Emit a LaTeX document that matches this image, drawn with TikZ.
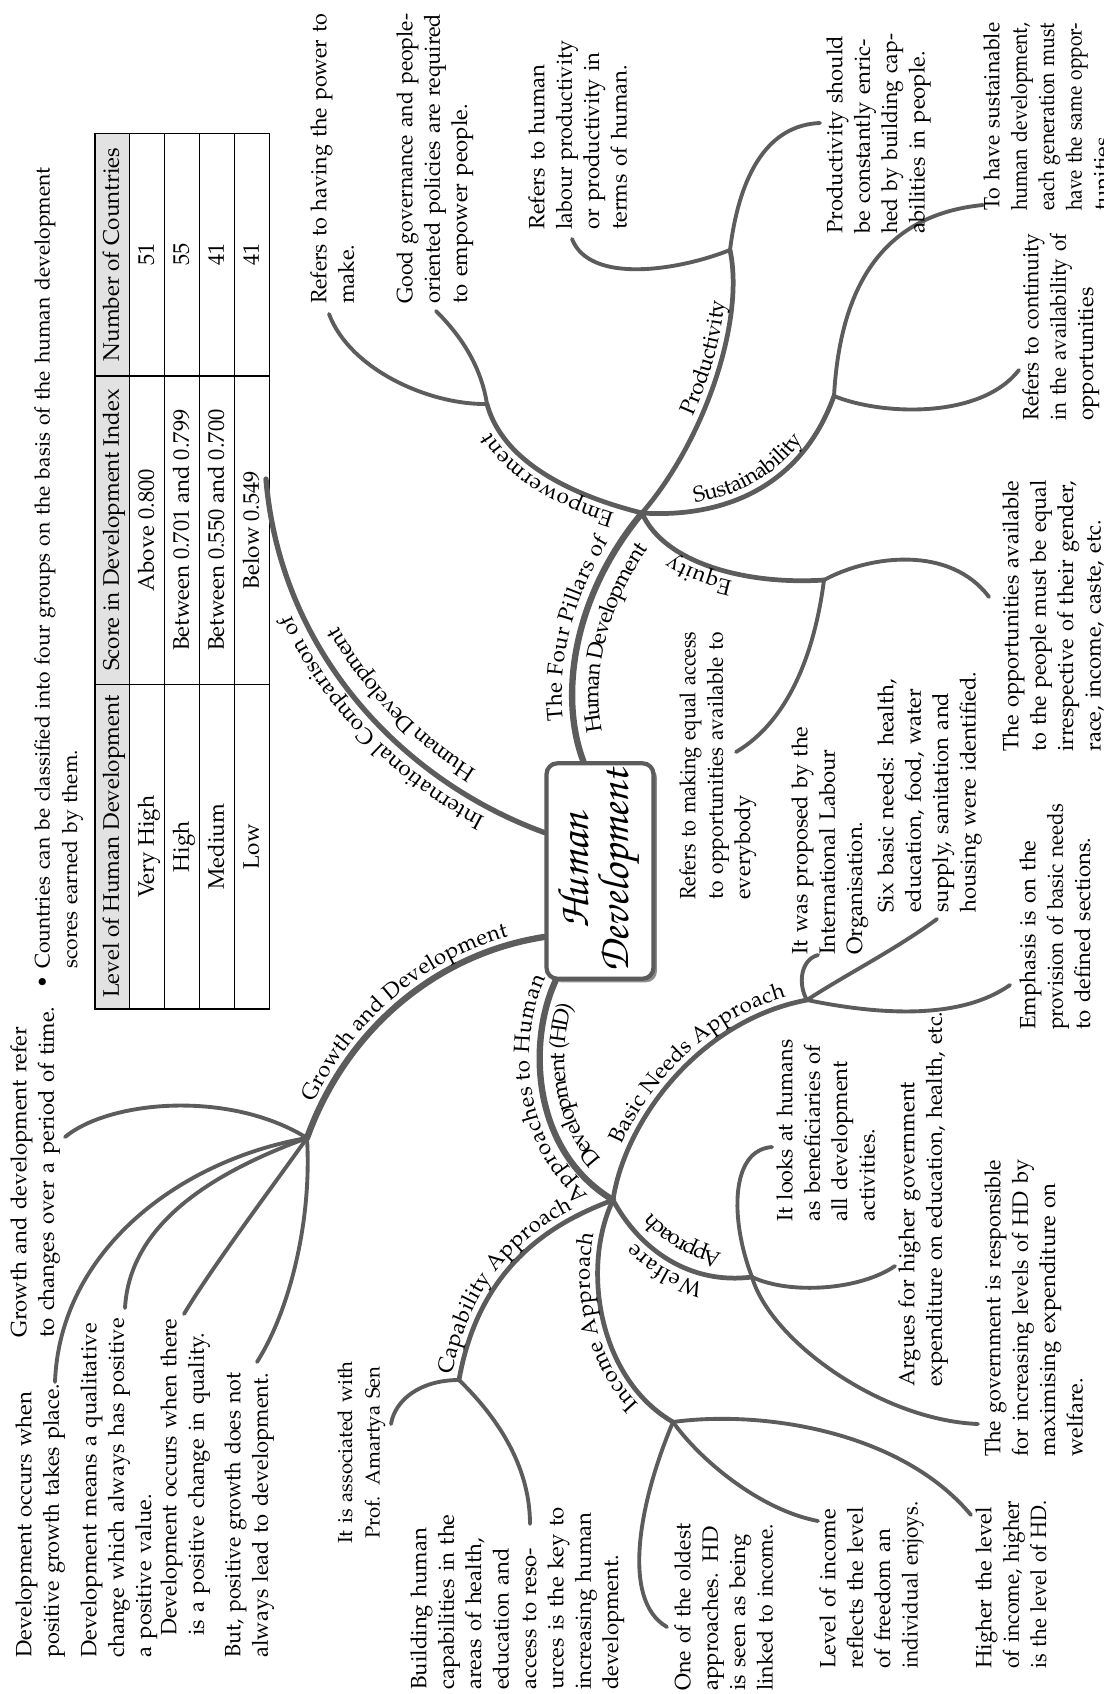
\documentclass[tikz,border=0pt]{standalone}
\usepackage[T1]{fontenc}
\usepackage{mathpazo}
\usepackage{graphicx}
\usepackage{array}
\usepackage{colortbl}
\usepackage{pdfrender}
\usetikzlibrary{calc,shadows,decorations.text}

\definecolor{branch}{HTML}{5C5C5C}
\definecolor{headgray}{HTML}{E2E2E2}

\newcolumntype{C}[1]{>{\centering\arraybackslash}p{#1}}
\newcommand{\bodyfont}{\fontsize{12.6}{15.6}\selectfont}
\newcommand{\titlefont}{\fontfamily{pzc}\fontsize{25}{22.7}\selectfont\pdfrender{TextRenderingMode=FillStroke,LineWidth=0.8pt}}
% one line of a block: squeezed when too long, else stretched (s) or left (l)
\newcommand{\fitline}[2]{\sbox0{#2}\ifdim\wd0>\linewidth\pgfmathsetmacro\jfac{\linewidth/\wd0}\scalebox{\jfac}[1]{#2}\else\makebox[\linewidth][#1]{#2}\fi}
\newcommand{\jline}{\fitline{s}}
\newcommand{\lline}{\fitline{l}}

\tikzset{
  trunk/.style={draw=branch, line width=3.6pt, line cap=round},
  bough/.style={draw=branch, line width=2.7pt, line cap=round},
  twig/.style={draw=branch, line width=2.2pt, line cap=round},
  leaf/.style={rotate=90, anchor=north west, inner sep=0pt, font=\bodyfont, align=left},
  say/.style n args={3}{postaction={decorate, decoration={text along path, raise=#1,
    text align={#2}, text={|\bodyfont|#3}}}},
  hub/.style={rotate=90, draw=branch, line width=2.4pt, rounded corners=0.22cm,
    fill=white, minimum width=3.94cm, minimum height=2.14cm, align=center, font=\titlefont,
    drop shadow={shadow xshift=0.07cm, shadow yshift=-0.07cm, fill=branch!70, opacity=1}}
}

\begin{document}
\begin{tikzpicture}[x=0.02cm, y=-0.02cm]
    \useasboundingbox (0,0) rectangle (1103,1694);

    % junctions
    \coordinate (pil) at (642,513);
    \coordinate (prod) at (730,250);
    \coordinate (sust) at (834,396);
    \coordinate (equi) at (824,580);
    \coordinate (empw) at (487,404);
    \coordinate (appr) at (613,1200);
    \coordinate (basic) at (807,1000);
    \coordinate (welf) at (752,1277);
    \coordinate (inc) at (673,1422);
    \coordinate (capa) at (459,1380);
    \coordinate (grow) at (307,1138);
    \coordinate (tabtip) at (266,479);

    % free ends of the twigs
    \coordinate (emp1) at (329,314);
    \coordinate (emp2) at (436,311);
    \coordinate (prod1) at (572,239);
    \coordinate (prod2) at (820,123);
    \coordinate (sust1) at (983,205);
    \coordinate (sust2) at (1019,370);
    \coordinate (equi1) at (989,597);
    \coordinate (equi2) at (736,752);
    \coordinate (basic1) at (818,955);
    \coordinate (basic2) at (937,919);
    \coordinate (basic3) at (1010,985);
    \coordinate (welf1) at (772,1147);
    \coordinate (welf2) at (895,1266);
    \coordinate (welf3) at (978,1424);
    \coordinate (inc1) at (667,1627);
    \coordinate (inc2) at (818,1521);
    \coordinate (inc3) at (971,1515);
    \coordinate (capa1) at (391,1424);
    \coordinate (capa2) at (530,1524);
    \coordinate (grow1) at (65,1137);
    \coordinate (grow2) at (55,1382);
    \coordinate (grow3) at (125,1308);
    \coordinate (grow4) at (184,1314);
    \coordinate (grow5) at (257,1362);

    % table
    \node[rotate=90, anchor=north west, inner sep=0pt] (table) at (93.6,1010) {%
      \fontsize{12.8}{19}\selectfont
      \setlength{\tabcolsep}{0pt}\setlength{\arrayrulewidth}{0.9pt}%
      \begin{tabular}{|C{6.46cm}|C{6.14cm}|C{4.82cm}|}
        \hline
        \rowcolor{headgray}Level of Human Development & Score in Development Index & Number of Countries\\ \hline
        Very High & Above 0.800 & 51\\ \hline
        High & Between 0.701 and 0.799 & 55\\ \hline
        Medium & Between 0.550 and 0.700 & 41\\ \hline
        Low & Below 0.549 & 41\\ \hline
      \end{tabular}};

    % central node
    \node[hub] (hd) at (600,871) {Human\\Development};

    \coordinate (hdtop) at ($(hd.east)!0.3!(hd.north east)$);
    \coordinate (hdcmp) at ($(hd.north)!0.35!(hd.north east)$);
    \coordinate (hdgrow) at ($(hd.north)!0.6!(hd.north west)$);
    \coordinate (hdappr) at ($(hd.west)!0.8!(hd.north west)$);

    % main branches
    \draw[trunk, say={6pt}{center}{The Four Pillars of}, say={-15pt}{center}{Human Development}]
      (hdtop) .. controls (560,700) and (570,600) .. (pil);
    \draw[trunk, line width=3pt, say={6pt}{center, right indent=44pt}{International Comparison of},
      say={-15pt}{center, right indent=44pt}{Human Development}]
      (hdcmp) .. controls (400,780) and (280,650) .. (tabtip);
    \draw[trunk] (hdgrow) .. controls (434,954) and (345,1032) .. (grow);
    \path[say={4.5pt}{center}{Growth and Development}] (grow) .. controls (345,1032) and (434,954) .. (hdgrow);
    \draw[trunk, say={6pt}{center, left indent=12pt}{Approaches to Human}, say={-14pt}{center, left indent=12pt}{Development (HD)}]
      (appr) .. controls (530,1150) and (528,1040) .. (hdappr);

    % four pillars
    \draw[bough, say={4.5pt}{center, left indent=33pt}{Productivity}] (pil) .. controls (705,440) and (745,320) .. (prod);
    \draw[bough, say={4.5pt}{center}{Sustainability}] (pil) .. controls (720,518) and (800,490) .. (sust);
    \draw[bough, say={4.5pt}{center, left indent=23pt}{Equity}] (equi) .. controls (750,585) and (665,565) .. (pil);
    \draw[bough, say={4.5pt}{center}{Empowerment}] (pil) .. controls (590,500) and (505,470) .. (empw);

    % approaches
    \draw[bough, say={4.5pt}{center, left indent=20pt}{Basic Needs Approach}] (appr) .. controls (625,1120) and (700,1020) .. (basic);
    \draw[bough, say={5pt}{center}{Welfare}, say={-14pt}{center}{Approach}] (welf) .. controls (690,1285) and (640,1250) .. (appr);
    \draw[bough, say={4.5pt}{center}{Income Approach}] (inc) .. controls (600,1380) and (580,1270) .. (appr);
    \draw[bough] (appr) .. controls (560,1220) and (480,1260) .. (capa);
    \path[say={4.5pt}{left, left indent=2pt}{Capability Approach}] (capa) .. controls (480,1260) and (560,1220) .. (appr);

    % twigs
    \draw[twig] (empw) .. controls (430,405) and (350,370) .. (emp1);
    \draw[twig] (empw) .. controls (480,360) and (455,330) .. (emp2);
    \draw[twig] (prod) .. controls (680,270) and (590,285) .. (prod1);
    \draw[twig] (prod) .. controls (740,170) and (770,125) .. (prod2);
    \draw[twig] (sust) .. controls (840,290) and (880,215) .. (sust1);
    \draw[twig] (sust) .. controls (880,415) and (980,420) .. (sust2);
    \draw[twig] (equi) .. controls (870,555) and (950,545) .. (equi1);
    \draw[twig] (equi) .. controls (815,650) and (790,720) .. (equi2);
    \draw[twig] (basic) .. controls (798,985) and (800,960) .. (basic1);
    \draw[twig] (basic) .. controls (845,975) and (895,950) .. (basic2);
    \draw[twig] (basic) .. controls (880,1015) and (960,1020) .. (basic3);
    \draw[twig] (welf) .. controls (730,1220) and (730,1150) .. (welf1);
    \draw[twig] (welf) .. controls (790,1295) and (860,1290) .. (welf2);
    \draw[twig] (welf) .. controls (770,1340) and (880,1420) .. (welf3);
    \draw[twig] (inc) .. controls (640,1500) and (620,1600) .. (inc1);
    \draw[twig] (inc) .. controls (700,1460) and (760,1510) .. (inc2);
    \draw[twig] (inc) .. controls (760,1410) and (900,1430) .. (inc3);
    \draw[twig] (capa) .. controls (420,1380) and (395,1400) .. (capa1);
    \draw[twig] (capa) .. controls (490,1410) and (530,1460) .. (capa2);
    \draw[twig] (grow) .. controls (230,1090) and (110,1100) .. (grow1);
    \draw[twig] (grow) .. controls (180,1160) and (60,1250) .. (grow2);
    \draw[twig] (grow) .. controls (220,1170) and (130,1220) .. (grow3);
    \draw[twig] (grow) .. controls (270,1190) and (210,1270) .. (grow4);
    \draw[twig] (grow) .. controls (312,1220) and (290,1310) .. (grow5);

    % texts
    \node[leaf, text width=17cm, font=\fontsize{12}{15.6}\selectfont] (intro) at (34,969) {\llap{\textbullet\ }Countries can be classified into four groups on the basis of the human development\\scores earned by them.};
    \node[leaf, text width=6.76cm] (refer) at (10,1338) {\jline{Growth and development refer}\\\jline{to changes over a period of time.}};
    \node[leaf, text width=5.48cm] (occurs) at (15,1658) {\jline{Development occurs when}\\\lline{positive growth takes place.}};
    \node[leaf, text width=7.5cm] (means) at (80,1658) {Development means a qualitative\\change which always has positive\\a positive value.};
    \node[leaf, text width=6.34cm] (quality) at (160,1636) {\jline{Development occurs when there}\\\jline{is a positive change in quality.}};
    \node[leaf, text width=5.7cm] (notalways) at (224,1658) {\jline{But, positive growth does not}\\\lline{always lead to development.}};
    \node[leaf, text width=3.8cm, align=center, font=\fontsize{11.6}{15.6}\selectfont] (sen) at (337,1548) {It is associated with\\Prof. Amartya Sen};
    \node[leaf, text width=4.5cm] (build) at (410,1690) {Building human\\capabilities in the\\areas of health,\\education and\\access to reso-\\urces is the key to\\increasing human\\development.};
    \node[leaf, text width=3.34cm] (oldest) at (674,1691) {\jline{One of the oldest}\\\jline{approaches. HD}\\\jline{is seen as being}\\\lline{linked to income.}};
    \node[leaf, text width=3.34cm] (freedom) at (819,1669) {\jline{Level of income}\\\jline{reflects the level}\\\jline{of freedom an}\\\lline{individual enjoys.}};
    \node[leaf, text width=3.36cm] (higher) at (975,1669) {\jline{Higher the level}\\\jline{of income, higher}\\\lline{is the level of HD.}};
    \node[leaf, text width=5.94cm] (govt) at (984,1457) {\jline{The government is responsible}\\\jline{for increasing levels of HD by}\\\jline{maximising expenditure on}\\welfare.};
    \node[leaf, text width=8cm] (argues) at (898,1387) {Argues for higher government\\expenditure on education, health, etc.};
    \node[leaf, text width=3.64cm] (looks) at (776,1222) {\jline{It looks at humans}\\\jline{as beneficiaries of}\\\jline{all development}\\activities.};
    \node[leaf, text width=4.52cm] (emph) at (1019,1030) {\jline{Emphasis is on the}\\\jline{provision of basic needs}\\\lline{to defined sections.}};
    \node[leaf, text width=4.82cm] (needs) at (877,913) {\jline{Six basic needs: health,}\\\jline{education, food, water}\\\jline{supply, sanitation and}\\\lline{housing were identified.}};
    \node[leaf, text width=4.56cm] (ilo) at (791,955) {\jline{It was proposed by the}\\\jline{International Labour}\\Organisation.};
    \node[leaf, text width=5.36cm] (access) at (679,900) {\jline{Refers to making equal access}\\\jline{to opportunities available to}\\everybody};
    \node[leaf, text width=5.42cm] (equal) at (1002,752) {\jline{The opportunities available}\\\jline{to the people must be equal}\\\jline{irrespective of their gender,}\\\lline{race, income, caste, etc.}};
    \node[leaf, text width=3.74cm] (contin) at (1022,421) {\jline{Refers to continuity}\\\jline{in the availability of}\\opportunities};
    \node[leaf, text width=3.76cm] (sustdef) at (983,211) {\jline{To have sustainable}\\\jline{human development,}\\\jline{each generation must}\\\jline{have the same oppor-}\\tunities.};
    \node[leaf, text width=4cm] (enrich) at (826,234) {\jline{Productivity should}\\\jline{be constantly enric-}\\\jline{hed by building cap-}\\\lline{abilities in people.}};
    \node[leaf, text width=3.78cm] (labour) at (528,230) {\jline{Refers to human}\\\jline{labour productivity}\\\jline{or productivity in}\\\lline{terms of human.}};
    \node[leaf, text width=5.8cm] (govern) at (396,304) {\jline{Good governance and people-}\\\jline{oriented policies are required}\\\lline{to empower people.}};
    \node[leaf, text width=5.8cm] (power) at (310,304) {\jline{Refers to having the power to}\\make.};
\end{tikzpicture}
\end{document}
